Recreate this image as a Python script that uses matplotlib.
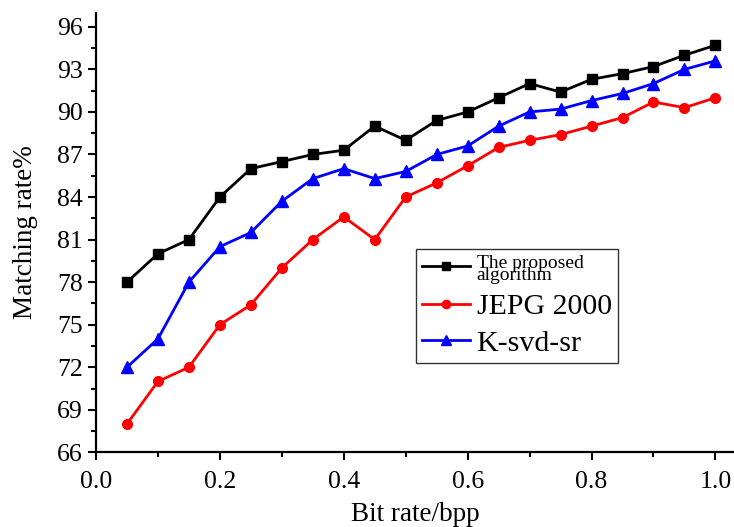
import matplotlib
matplotlib.use("Agg")
import matplotlib.pyplot as plt
from matplotlib.ticker import MultipleLocator

plt.rcParams['font.family'] = ['Liberation Serif', 'DejaVu Serif']

# bit rate (bpp)
bit_rate = [0.05, 0.10, 0.15, 0.20, 0.25, 0.30, 0.35, 0.40, 0.45, 0.50,
            0.55, 0.60, 0.65, 0.70, 0.75, 0.80, 0.85, 0.90, 0.95, 1.00]

# matching rate %
proposed = [78.0, 80.0, 81.0, 84.0, 86.0, 86.5, 87.0, 87.3, 89.0, 88.0,
            89.4, 90.0, 91.0, 92.0, 91.4, 92.3, 92.7, 93.2, 94.0, 94.7]
jpeg2000 = [68.0, 71.0, 72.0, 75.0, 76.4, 79.0, 81.0, 82.6, 81.0, 84.0,
            85.0, 86.2, 87.5, 88.0, 88.4, 89.0, 89.6, 90.7, 90.3, 91.0]
ksvd_sr = [72.0, 74.0, 78.0, 80.5, 81.5, 83.7, 85.3, 86.0, 85.3, 85.8,
           87.0, 87.6, 89.0, 90.0, 90.2, 90.8, 91.3, 92.0, 93.0, 93.6]

labels = ["The proposed\nalgorithm", "JEPG 2000", "K-svd-sr"]

fig = plt.figure(figsize=(7.34, 5.27), dpi=100)
ax = fig.add_axes([0.1308, 0.1417, 1.0 - 0.1308, 0.976 - 0.1417])

l1, = ax.plot(bit_rate, proposed, color="black", marker="s", ms=7, lw=2.0, clip_on=False)
l2, = ax.plot(bit_rate, jpeg2000, color="red", marker="o", ms=7, lw=2.0, clip_on=False)
l3, = ax.plot(bit_rate, ksvd_sr, color="blue", marker="^", ms=8.5, lw=2.0, clip_on=False)

ax.set_xlim(0, 1.03)
ax.set_ylim(66, 97)
ax.xaxis.set_major_locator(MultipleLocator(0.2))
ax.xaxis.set_minor_locator(MultipleLocator(0.1))
ax.yaxis.set_major_locator(MultipleLocator(3))
ax.yaxis.set_minor_locator(MultipleLocator(1.5))
ax.xaxis.set_major_formatter(plt.FormatStrFormatter("%.1f"))

for s in ["top", "right"]:
    ax.spines[s].set_visible(False)
for s in ["left", "bottom"]:
    ax.spines[s].set_linewidth(1.6)
ax.tick_params(which="major", direction="out", length=5.8, width=1.5, labelsize=18.5)
ax.tick_params(axis="x", which="major", pad=8)
ax.tick_params(which="minor", direction="out", length=3.3, width=1.5)

ax.set_xlabel("Bit rate/bpp", fontsize=19.5, labelpad=6)
ax.set_ylabel("Matching rate%", fontsize=19.5, labelpad=14)

leg = ax.legend([l1, l2, l3], labels, loc="upper left",
                bbox_to_anchor=(416 / 734, 1 - 249 / 527), bbox_transform=fig.transFigure,
                frameon=True, fancybox=False, fontsize=21.5,
                edgecolor="black", handlelength=1.6, handletextpad=0.23,
                borderpad=0.2, labelspacing=0.32, borderaxespad=0, markerscale=0.85)
leg.get_frame().set_linewidth(1.0)
texts = leg.get_texts()
texts[0].set_fontsize(14)
texts[0].set_linespacing(0.62)

fig.savefig("out.png", dpi=100)
